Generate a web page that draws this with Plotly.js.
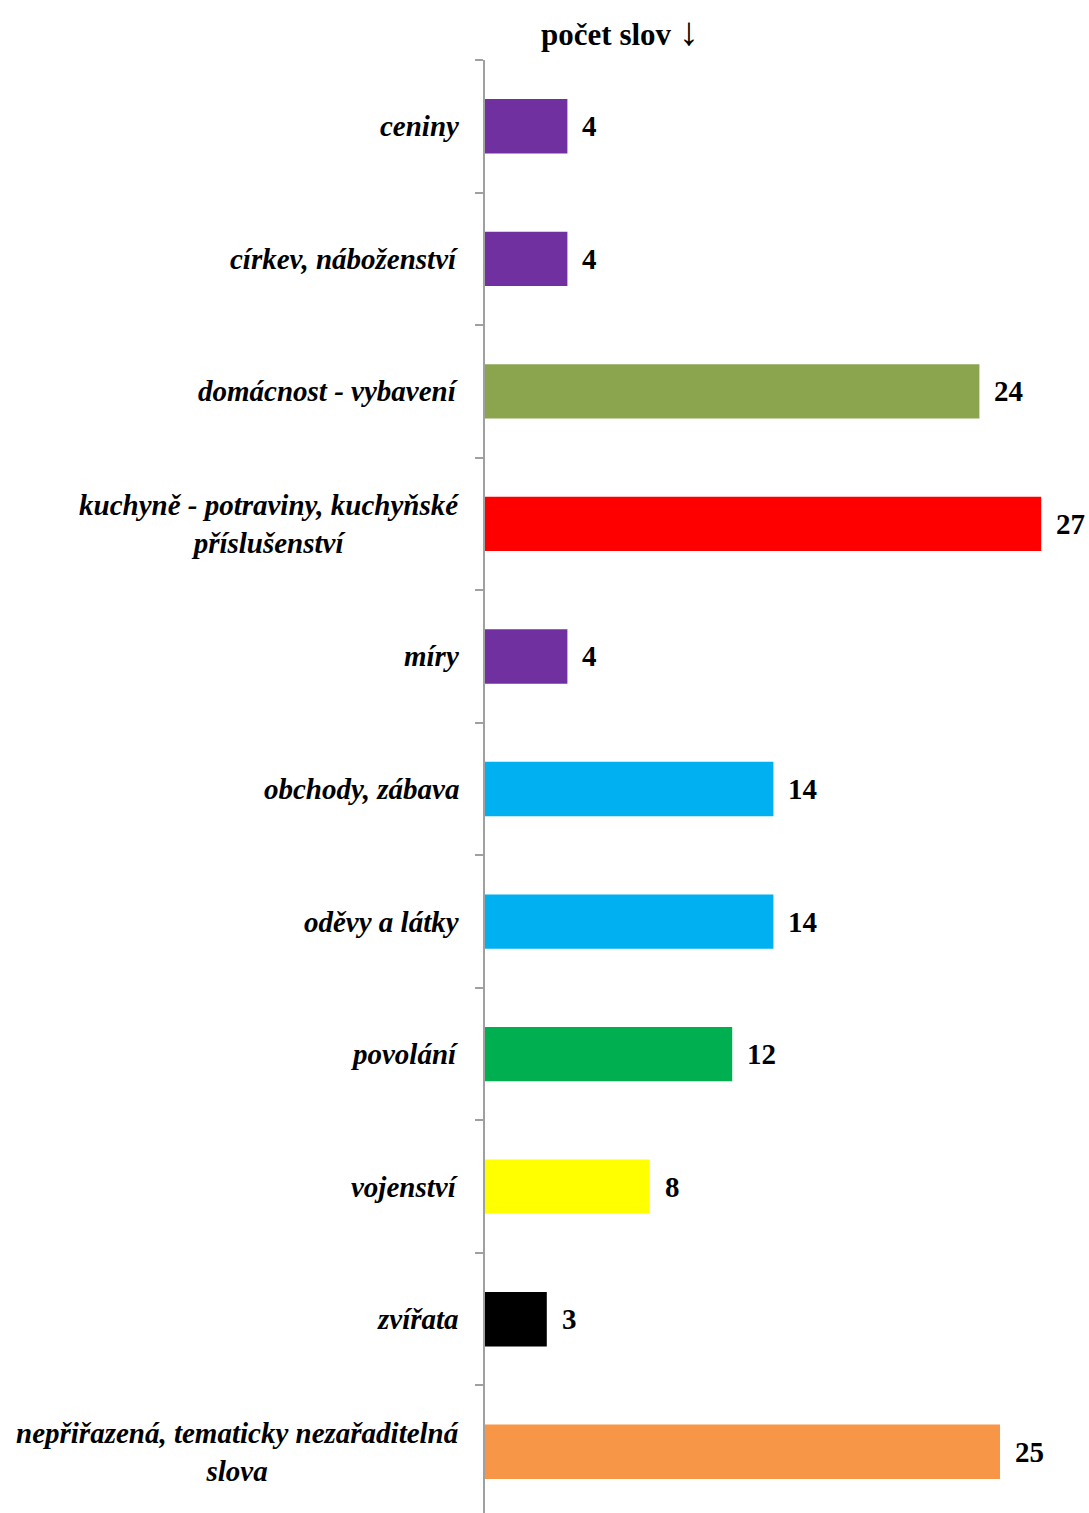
<!DOCTYPE html>
<html>
<head>
<meta charset="utf-8">
<script src="https://cdn.plot.ly/plotly-3.0.1.min.js"></script>
<style>html,body{margin:0;padding:0;background:#fff;}#chart{width:1089px;height:1513px;}</style>
</head>
<body>
<div id="chart"></div>
<script>
const categories = [
  "ceniny",
  "církev, náboženství",
  "domácnost - vybavení",
  "kuchyně - potraviny, kuchyňské<br>příslušenství",
  "míry",
  "obchody, zábava",
  "oděvy a látky",
  "povolání",
  "vojenství",
  "zvířata",
  "nepřiřazená, tematicky nezařaditelná<br>slova"
];
const values = [4, 4, 24, 27, 4, 14, 14, 12, 8, 3, 25];
const barColors = ["#7030A0", "#7030A0", "#8BA54E", "#FF0000", "#7030A0", "#00B0F0", "#00B0F0", "#00B050", "#FFFF00", "#000000", "#F79646"];
const titleText = "počet slov";
const titleArrow = "↓";

const serif = "'Liberation Serif', 'Times New Roman', serif";

const trace = {
  type: "bar",
  orientation: "h",
  y: categories,
  x: values,
  marker: {color: barColors},
  width: 0.41,
  hoverinfo: "x+y"
};

const annotations = [];
categories.forEach((c, i) => {
  annotations.push({
    xref: "x", yref: "y", x: values[i], y: c,
    text: "<b>" + values[i] + "</b>",
    showarrow: false, xanchor: "left", yanchor: "middle", xshift: 13,
    font: {family: serif, size: 29, color: "#000"}
  });
  annotations.push({
    xref: "paper", yref: "y", x: 0, y: c,
    text: "<b><i>" + c + "</i></b>",
    showarrow: false, xanchor: "right", yanchor: "middle", align: "center", xshift: -24,
    font: {family: serif, size: 29, color: "#000"}
  });
});

const layout = {
  width: 1089, height: 1513,
  margin: {l: 485, r: 0, t: 60, b: 0},
  paper_bgcolor: "#fff", plot_bgcolor: "#fff",
  showlegend: false,
  title: {
    text: "<b>" + titleText + " </b><span style='font-size:40px'>" + titleArrow + "</span>",
    xref: "container", yref: "container",
    x: 620 / 1089, xanchor: "center",
    y: 1 - 34 / 1513, yanchor: "middle",
    font: {family: serif, size: 31, color: "#000"}
  },
  xaxis: {
    range: [0, 29.32], visible: false, showgrid: false, zeroline: false, fixedrange: true
  },
  yaxis: {
    type: "category",
    range: [10.462, -0.5],
    showticklabels: false,
    showline: true, linecolor: "#A0A0A0", linewidth: 2,
    ticks: "outside", ticklen: 8, tickcolor: "#A0A0A0", tickwidth: 2,
    tickson: "boundaries",
    showgrid: false, zeroline: false
  },
  annotations: annotations
};

Plotly.newPlot("chart", [trace], layout, {displayModeBar: false, staticPlot: true});
</script>
</body>
</html>
